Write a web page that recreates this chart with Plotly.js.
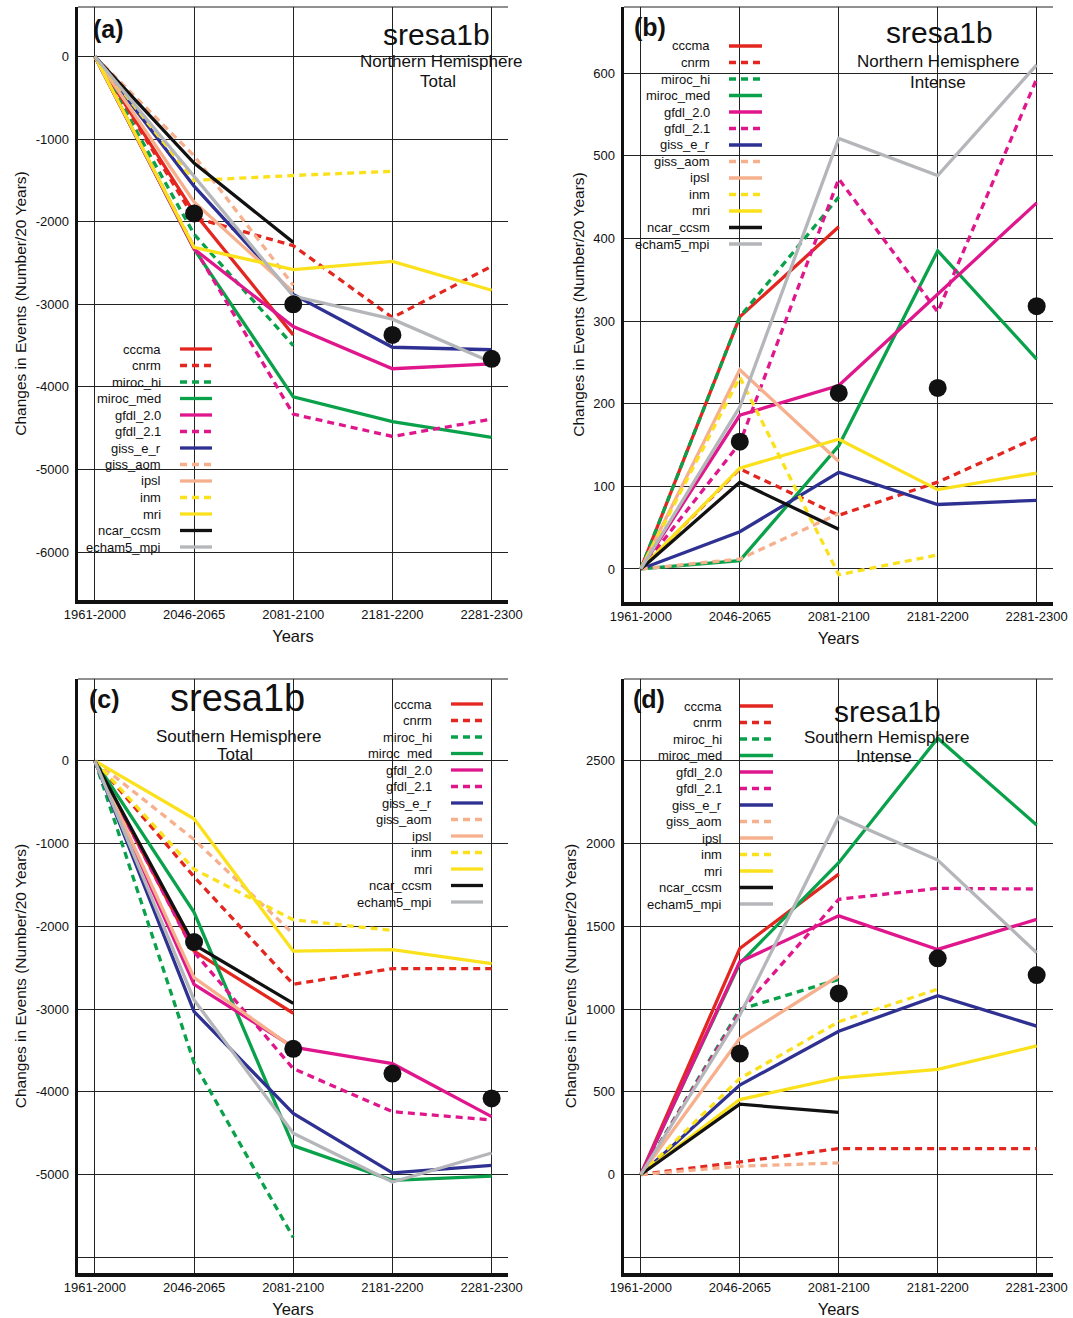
<!DOCTYPE html>
<html>
<head>
<meta charset="utf-8">
<script src="https://cdn.plot.ly/plotly-3.0.1.min.js"></script>
<style>
  html, body { margin: 0; padding: 0; background: #fff; }
  #chart { width: 1073px; height: 1318px; }
</style>
</head>
<body>
<div id="chart"></div>
<script>
// Time slices on the x axis
const periods = ['1961-2000', '2046-2065', '2081-2100', '2181-2200', '2281-2300'];

// Climate models, in legend order
const models = ['cccma', 'cnrm', 'miroc_hi', 'miroc_med', 'gfdl_2.0', 'gfdl_2.1',
                'giss_e_r', 'giss_aom', 'ipsl', 'inm', 'mri', 'ncar_ccsm', 'echam5_mpi'];

// (a) Northern Hemisphere, total cyclone events: change per 20 years (one row per model)
const nhTotal = [
  [0, -1890, -3370, null, null],
  [0, -1950, -2290, -3160, -2540],
  [0, -2150, -3500, null, null],
  [0, -2330, -4120, -4420, -4610],
  [0, -2330, -3270, -3780, -3720],
  [0, -2310, -4330, -4600, -4390],
  [0, -1570, -2880, -3520, -3550],
  [0, -1200, -2770, null, null],
  [0, -1760, -2850, null, null],
  [0, -1500, -1440, -1390, null],
  [0, -2310, -2580, -2480, -2830],
  [0, -1290, -2250, null, null],
  [0, -1450, -2900, -3180, -3700]
];
const nhTotalMean = [null, -1900, -3000, -3370, -3660];

// (b) Northern Hemisphere, intense cyclone events
const nhIntense = [
  [0, 305, 414, null, null],
  [0, 121, 65, 105, 159],
  [0, 305, 450, null, null],
  [0, 10, 149, 385, 254],
  [0, 186, 222, 333, 443],
  [0, 152, 472, 311, 593],
  [0, 45, 117, 78, 83],
  [0, 12, 67, null, null],
  [0, 241, 130, null, null],
  [0, 232, -7, 17, null],
  [0, 122, 157, 96, 116],
  [0, 105, 48, null, null],
  [0, 196, 521, 476, 610]
];
const nhIntenseMean = [null, 154, 213, 219, 318];

// (c) Southern Hemisphere, total cyclone events
const shTotal = [
  [0, -2300, -3050, null, null],
  [0, -1400, -2700, -2510, -2510],
  [0, -3650, -5760, null, null],
  [0, -1830, -4650, -5070, -5020],
  [0, -2700, -3460, -3660, -4300],
  [0, -2310, -3720, -4240, -4340],
  [0, -3030, -4260, -4980, -4890],
  [0, -950, -2090, null, null],
  [0, -2620, -3470, null, null],
  [0, -1310, -1920, -2050, null],
  [0, -700, -2300, -2280, -2450],
  [0, -2220, -2930, null, null],
  [0, -2890, -4500, -5090, -4740]
];
const shTotalMean = [null, -2190, -3480, -3780, -4080];

// (d) Southern Hemisphere, intense cyclone events
const shIntense = [
  [0, 1366, 1815, null, null],
  [0, 76, 157, 157, 157],
  [0, 997, 1179, null, null],
  [0, 1276, 1884, 2636, 2112],
  [0, 1285, 1563, 1360, 1542],
  [0, 983, 1663, 1729, 1725],
  [0, 540, 866, 1080, 897],
  [0, 50, 70, null, null],
  [0, 822, 1201, null, null],
  [0, 580, 923, 1120, null],
  [0, 453, 584, 635, 777],
  [0, 425, 375, null, null],
  [0, 963, 2162, 1900, 1340]
];
const shIntenseMean = [null, 731, 1094, 1306, 1205];

// Line styles per model
const RED = '#e3261f', GREEN = '#0aa14b', MAGENTA = '#e0168c', NAVY = '#2e3192',
      PEACH = '#f6b08d', YELLOW = '#fbe11c', BLACK = '#111111', GRAY = '#b4b6b9';
const DASH = '7px,5px';
const styles = [
  {color: RED, dash: 'solid'},
  {color: RED, dash: DASH},
  {color: GREEN, dash: DASH},
  {color: GREEN, dash: 'solid'},
  {color: MAGENTA, dash: 'solid'},
  {color: MAGENTA, dash: DASH},
  {color: NAVY, dash: 'solid'},
  {color: PEACH, dash: DASH},
  {color: PEACH, dash: 'solid'},
  {color: YELLOW, dash: DASH},
  {color: YELLOW, dash: 'solid'},
  {color: BLACK, dash: 'solid'},
  {color: GRAY, dash: 'solid'}
];
const LINE_W = 3.3;

const W = 1073, H = 1318;
const px = x => x / W;
const py = y => 1 - y / H;
const FONT = 'Liberation Sans, Arial, Helvetica, sans-serif';

// Panel frames in pixels and their own settings
const panels = [
  {key: '', data: nhTotal, mean: nhTotalMean, left: 78, right: 508, top: 7, bottom: 600,
   yrange: [-6580, 600], tickvals: [-6000, -5000, -4000, -3000, -2000, -1000, 0],
   ticktext: ['-6000', '-5000', '-4000', '-3000', '-2000', '-1000', '0'],
   tag: '(a)', tagX: 108, tagY: 29, scen: 'sresa1b', scenX: 436, scenY: 35, scenSize: 30,
   sub1: 'Northern Hemisphere', sub1X: 441, sub1Y: 62, sub2: 'Total', sub2X: 438, sub2Y: 81,
   legTextX: 163, legLine: [180, 212], legY0: 349},
  {key: '2', data: nhIntense, mean: nhIntenseMean, left: 624, right: 1053, top: 7, bottom: 602,
   yrange: [-40, 680], tickvals: [0, 100, 200, 300, 400, 500, 600],
   ticktext: ['0', '100', '200', '300', '400', '500', '600'],
   tag: '(b)', tagX: 650, tagY: 27, scen: 'sresa1b', scenX: 939, scenY: 33, scenSize: 30,
   sub1: 'Northern Hemisphere', sub1X: 938, sub1Y: 62, sub2: 'Intense', sub2X: 938, sub2Y: 82,
   legTextX: 712, legLine: [729, 762], legY0: 46},
  {key: '3', data: shTotal, mean: shTotalMean, left: 78, right: 508, top: 679, bottom: 1273,
   yrange: [-6190, 990], tickvals: [-6000, -5000, -4000, -3000, -2000, -1000, 0],
   ticktext: ['', '-5000', '-4000', '-3000', '-2000', '-1000', '0'],
   tag: '(c)', tagX: 104, tagY: 699, scen: 'sresa1b', scenX: 237, scenY: 698, scenSize: 38,
   sub1: 'Southern Hemisphere', sub1X: 238, sub1Y: 736, sub2: 'Total', sub2X: 235, sub2Y: 754,
   legTextX: 434, legLine: [451, 483], legY0: 704},
  {key: '4', data: shIntense, mean: shIntenseMean, left: 624, right: 1053, top: 679, bottom: 1273,
   yrange: [-595, 2994], tickvals: [-500, 0, 500, 1000, 1500, 2000, 2500],
   ticktext: ['', '0', '500', '1000', '1500', '2000', '2500'],
   tag: '(d)', tagX: 649, tagY: 699, scen: 'sresa1b', scenX: 887, scenY: 712, scenSize: 30,
   sub1: 'Southern Hemisphere', sub1X: 886, sub1Y: 737, sub2: 'Intense', sub2X: 884, sub2Y: 756,
   legTextX: 724, legLine: [740, 773], legY0: 706}
];

const traces = [];
const shapes = [];
const annotations = [];
const layout = {
  width: W, height: H,
  margin: {l: 0, r: 0, t: 0, b: 0},
  paper_bgcolor: '#ffffff', plot_bgcolor: '#ffffff',
  showlegend: false,
  font: {family: FONT, color: '#111', size: 13}
};

const LEG_STEP = 16.5;

panels.forEach(p => {
  const xa = 'x' + p.key, ya = 'y' + p.key;
  const xName = 'xaxis' + p.key, yName = 'yaxis' + p.key;

  layout[xName] = {
    domain: [px(p.left), px(p.right)], anchor: ya,
    type: 'category', categoryorder: 'array', categoryarray: periods,
    range: [-0.17, 4.165],
    showgrid: true, gridcolor: '#222', gridwidth: 1,
    showline: true, linecolor: '#111', linewidth: 3.5,
    zeroline: false, ticks: '', ticklabelstandoff: 0,
    tickfont: {family: FONT, size: 13, color: '#111'},
    title: {text: 'Years', font: {family: FONT, size: 16.5, color: '#111'}, standoff: 10}
  };
  layout[yName] = {
    domain: [py(p.bottom), py(p.top)], anchor: xa,
    range: p.yrange, tickmode: 'array', tickvals: p.tickvals, ticktext: p.ticktext,
    showgrid: true, gridcolor: '#222', gridwidth: 1,
    showline: true, linecolor: '#111', linewidth: 3.5,
    zeroline: false, ticks: '', ticklabelstandoff: 3,
    tickfont: {family: FONT, size: 13, color: '#111'},
    title: {text: 'Changes in Events (Number/20 Years)',
            font: {family: FONT, size: 15.5, color: '#111'}, standoff: 6}
  };

  // model curves
  p.data.forEach((vals, i) => {
    traces.push({
      type: 'scatter', mode: 'lines', name: models[i],
      x: periods, y: vals, xaxis: xa, yaxis: ya,
      line: {color: styles[i].color, dash: styles[i].dash, width: LINE_W},
      connectgaps: false, hoverinfo: 'name+y'
    });
  });
  // ensemble mean dots
  traces.push({
    type: 'scatter', mode: 'markers', name: 'ensemble mean',
    x: periods, y: p.mean, xaxis: xa, yaxis: ya,
    marker: {color: '#111', size: 18}, hoverinfo: 'name+y'
  });

  // top frame line
  shapes.push({type: 'line', xref: 'paper', yref: 'paper',
               x0: px(p.left), x1: px(p.right), y0: py(p.top), y1: py(p.top),
               line: {color: '#222', width: 1.2}});

  // legend: right-aligned names with line samples
  models.forEach((m, i) => {
    const yy = p.legY0 + i * LEG_STEP;
    annotations.push({xref: 'paper', yref: 'paper', x: px(p.legTextX), y: py(yy),
                      xanchor: 'right', yanchor: 'middle', showarrow: false, text: m,
                      font: {family: FONT, size: 13, color: '#111'}});
    shapes.push({type: 'line', xref: 'paper', yref: 'paper',
                 x0: px(p.legLine[0]), x1: px(p.legLine[1]), y0: py(yy), y1: py(yy),
                 line: {color: styles[i].color, width: LINE_W,
                        dash: styles[i].dash === 'solid' ? 'solid' : DASH}});
  });

  // panel tag, scenario and region labels
  annotations.push({xref: 'paper', yref: 'paper', x: px(p.tagX), y: py(p.tagY),
                    xanchor: 'center', yanchor: 'middle', showarrow: false, text: '<b>' + p.tag + '</b>',
                    font: {family: FONT, size: 25, color: '#111'}});
  annotations.push({xref: 'paper', yref: 'paper', x: px(p.scenX), y: py(p.scenY),
                    xanchor: 'center', yanchor: 'middle', showarrow: false, text: p.scen,
                    font: {family: FONT, size: p.scenSize, color: '#111'}});
  annotations.push({xref: 'paper', yref: 'paper', x: px(p.sub1X), y: py(p.sub1Y),
                    xanchor: 'center', yanchor: 'middle', showarrow: false, text: p.sub1,
                    font: {family: FONT, size: 17, color: '#111'}});
  annotations.push({xref: 'paper', yref: 'paper', x: px(p.sub2X), y: py(p.sub2Y),
                    xanchor: 'center', yanchor: 'middle', showarrow: false, text: p.sub2,
                    font: {family: FONT, size: 17, color: '#111'}});
});

layout.shapes = shapes;
layout.annotations = annotations;

Plotly.newPlot('chart', traces, layout, {displayModeBar: false, staticPlot: true});
</script>
</body>
</html>
